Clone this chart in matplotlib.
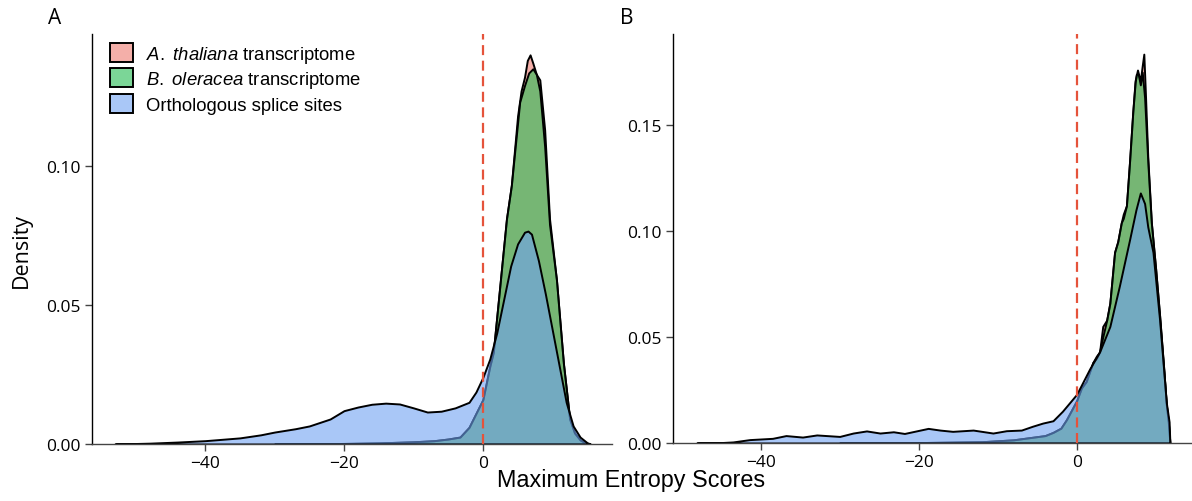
import matplotlib
matplotlib.use("Agg")
import matplotlib.pyplot as plt
from matplotlib.patches import Patch

# ---------------- data ----------------
# Panel A
a_ortho_x = [-53, -48, -44, -40, -37, -35, -32, -30, -27, -25, -22, -20, -18, -16, -14, -12,
             -10, -8, -6, -4, -2, -1, 0, 1, 2, 3, 4, 5, 6, 6.5, 7, 8, 9, 10, 11, 12, 13, 14, 15, 15.5]
a_ortho_y = [0, 0.0003, 0.0007, 0.0012, 0.0018, 0.0022, 0.0033, 0.0043, 0.0055, 0.0065, 0.009,
             0.012, 0.0133, 0.0143, 0.0147, 0.0144, 0.013, 0.0115, 0.0118, 0.013, 0.015, 0.0187,
             0.024, 0.0306, 0.040, 0.052, 0.064, 0.072, 0.0762, 0.0766, 0.0755, 0.066, 0.054,
             0.041, 0.028, 0.015, 0.0065, 0.0025, 0.0005, 0]

a_ole_x = [-30, -20, -15, -10, -7, -5, -3.3, -2, -1.4, 0, 1, 1.5, 2.45, 3.4, 4.1, 5.3, 6.0,
           6.6, 7.2, 7.7, 8.2, 8.9, 9.6, 10.6, 11.6, 12.5, 13.2, 14, 15]
a_ole_y = [0, 0.0002, 0.0004, 0.0008, 0.0012, 0.0018, 0.0025, 0.006, 0.009, 0.016, 0.028,
           0.033, 0.057, 0.081, 0.093, 0.123, 0.129, 0.1335, 0.135, 0.133, 0.127, 0.107,
           0.079, 0.059, 0.029, 0.009, 0.004, 0.0015, 0]

a_tha_x = [-30, -20, -15, -10, -7, -5, -3.3, -2, -1.4, 0, 1, 1.5, 2.45, 3.4, 4.1, 5.0, 5.5,
           6.0, 6.4, 6.8, 7.2, 7.7, 8.2, 8.9, 9.6, 10.6, 11.6, 12.5, 13.2, 14, 15]
a_tha_y = [0, 0.0002, 0.0004, 0.0008, 0.0012, 0.0018, 0.0025, 0.006, 0.009, 0.016, 0.028,
           0.033, 0.057, 0.081, 0.093, 0.118, 0.127, 0.132, 0.138, 0.140, 0.137, 0.133,
           0.131, 0.113, 0.081, 0.059, 0.029, 0.009, 0.004, 0.0015, 0]

# Panel B
b_ortho_x = [-48.1, -45, -43.5, -41.4, -38.5, -36.8, -34.7, -32.9, -30, -28.3, -26.6, -24.9,
             -23.2, -21.8, -20.3, -18.8, -17.3, -15.7, -13.1, -10.6, -8.9, -7.0, -5.6, -4.3,
             -3.0, -1.8, 0, 1.65, 2.9, 4.2, 5.4, 6.7, 7.5, 8.06, 8.6, 9.0, 9.66, 10.5, 11.0,
             11.35, 11.7, 11.8]
b_ortho_y = [0, 0.0002, 0.0005, 0.0016, 0.0022, 0.0035, 0.0028, 0.0038, 0.0031, 0.0047,
             0.0057, 0.0047, 0.0053, 0.0045, 0.0057, 0.0069, 0.0061, 0.0055, 0.0061, 0.0047,
             0.0058, 0.0061, 0.0079, 0.0094, 0.0105, 0.015, 0.023, 0.035, 0.043, 0.055,
             0.074, 0.096, 0.110, 0.118, 0.113, 0.102, 0.090, 0.058, 0.035, 0.019, 0.010, 0]

b_ole_x = [-30, -20, -12, -8, -6, -4, -3, -2, -1.3, 0, 0.6, 1.2, 2.05, 2.5, 2.9, 3.3, 3.8,
           4.2, 4.8, 5.2, 5.65, 5.9, 6.3, 6.7, 7.1, 7.4, 7.55, 7.8, 8.06, 8.3, 8.6, 9.0,
           9.45, 10.0, 10.5, 11.0, 11.35, 11.6, 11.8]
b_ole_y = [0, 0.0002, 0.0006, 0.0015, 0.0025, 0.0035, 0.005, 0.007, 0.011, 0.020, 0.026,
           0.029, 0.038, 0.040, 0.043, 0.050, 0.058, 0.066, 0.090, 0.095, 0.104, 0.106,
           0.112, 0.133, 0.156, 0.170, 0.174, 0.174, 0.169, 0.175, 0.163, 0.133, 0.104,
           0.082, 0.060, 0.036, 0.018, 0.010, 0]

b_tha_x = [-30, -20, -12, -8, -6, -4, -3, -2, -1.3, 0, 0.6, 1.2, 2.05, 2.5, 2.9, 3.3, 3.8,
           4.2, 4.8, 5.2, 5.65, 5.9, 6.3, 6.7, 7.1, 7.4, 7.7, 7.9, 8.06, 8.3, 8.5, 8.7, 9.0,
           9.45, 10.0, 10.5, 11.0, 11.35, 11.6, 11.8]
b_tha_y = [0, 0.0002, 0.0006, 0.0015, 0.0025, 0.0035, 0.005, 0.007, 0.011, 0.020, 0.026,
           0.029, 0.038, 0.041, 0.043, 0.055, 0.058, 0.066, 0.090, 0.095, 0.104, 0.108,
           0.112, 0.133, 0.156, 0.171, 0.176, 0.173, 0.171, 0.178, 0.1835, 0.165, 0.135,
           0.104, 0.082, 0.060, 0.036, 0.018, 0.010, 0]

labels = ["A. thaliana transcriptome", "B. oleracea transcriptome", "Orthologous splice sites"]
legend_texts = [r"$\it{A.}$ $\it{thaliana}$ transcriptome", r"$\it{B.}$ $\it{oleracea}$ transcriptome",
                "Orthologous splice sites"]
colors = ["#ED7A71", "#23BB52", "#71A3F3"]
alpha = 0.6

xticks = [-40, -20, 0]
yticks_a = [0.00, 0.05, 0.10]
yticks_b = [0.00, 0.05, 0.10, 0.15]

# ---------------- figure ----------------
plt.rcParams['font.family'] = ['Open Sans', 'DejaVu Sans']
plt.rcParams['mathtext.fontset'] = 'custom'
plt.rcParams['mathtext.it'] = 'Liberation Sans:italic'
plt.rcParams['mathtext.rm'] = 'Liberation Sans'

fig = plt.figure(figsize=(11.92, 5.02), dpi=100)
axA = fig.add_axes([92/1192, 57/502, 520/1192, 410/502])
axB = fig.add_axes([673/1192, 58/502, 519/1192, 409/502])


def draw(ax, series):
    for (x, y), c in zip(series, colors):
        ax.fill_between(x, y, 0, facecolor=matplotlib.colors.to_rgba(c, alpha),
                        edgecolor="black", linewidth=1.4)
    ax.axvline(0, color="#E5533B", linestyle=(0, (4.5, 2.5)), linewidth=1.6, zorder=5)
    for s in ["top", "right"]:
        ax.spines[s].set_visible(False)
    for s in ["left", "bottom"]:
        ax.spines[s].set_linewidth(1.0)
    ax.spines["bottom"].set_color("#444444")
    ax.set_xticks(xticks)
    ax.set_xticklabels([f"\u2212{-t}" if t < 0 else str(t) for t in xticks])
    ax.tick_params(axis="both", labelsize=12.5, length=5, width=1, color="#444444", pad=3)


draw(axA, [(a_tha_x, a_tha_y), (a_ole_x, a_ole_y), (a_ortho_x, a_ortho_y)])
draw(axB, [(b_tha_x, b_tha_y), (b_ole_x, b_ole_y), (b_ortho_x, b_ortho_y)])

axA.set_xlim(-56.3, 18.6)
axA.set_ylim(0, 0.1475)
axA.set_yticks(yticks_a)
axA.set_yticklabels([f"{t:.2f}" for t in yticks_a])
axB.set_xlim(-51.1, 14.6)
axB.set_ylim(0, 0.193)
axB.set_yticks(yticks_b)
axB.set_yticklabels([f"{t:.2f}" for t in yticks_b])

handles = [Patch(facecolor=matplotlib.colors.to_rgba(c, alpha), edgecolor="black", linewidth=1.4)
           for c in colors]
leg = axA.legend(handles, legend_texts, loc="upper left", bbox_to_anchor=(0.034, 0.978),
                 frameon=False, borderpad=0, borderaxespad=0, handlelength=1.25,
                 handleheight=1.2, labelspacing=0.2, handletextpad=0.7,
                 prop={"family": "Liberation Sans", "size": 13.3})

fig.text(55/1192, 1 - 18/502, "A", fontsize=15, ha="center", va="center")
fig.text(627/1192, 1 - 18/502, "B", fontsize=15, ha="center", va="center")
fig.text(631/1192, 1 - 481/502, "Maximum Entropy Scores", fontsize=16.8, ha="center",
         va="center", family="Liberation Sans")
fig.text(21/1192, 1 - 250/502, "Density", fontsize=15.5, ha="center", va="center",
         rotation=90)

fig.savefig("out.png", dpi=100)
